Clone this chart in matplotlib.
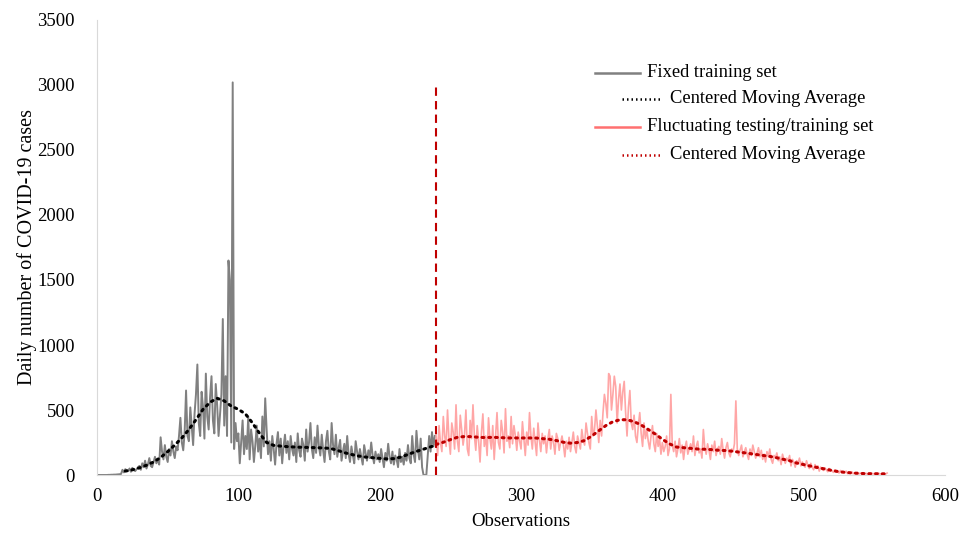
import matplotlib.pyplot as plt
import numpy as np

plt.rcParams['font.family'] = ['Liberation Serif', 'DejaVu Serif']

# daily cases, fixed training set (observations 0..239)
fixed_cases = [
    0, 0, 0, 0, 0, 0, 0, 0, 1, 1, 2, 2, 3, 3, 4, 5, 6, 8,
    40, 20, 45, 35, 30, 50, 25, 55, 40, 30, 45, 60,
    70, 40, 90, 60, 110, 50, 80, 130, 70, 60, 100, 140, 90, 120, 80,
    290, 180, 120, 230, 140, 100, 200, 150, 260, 180,
    130, 220, 190, 300, 440, 250, 190, 330, 650, 300, 260, 520, 380, 230, 470,
    620, 850, 400, 300, 640, 520, 280, 780, 450, 350, 600, 760, 420, 320, 700,
    540, 300, 460, 620, 1200, 380, 760, 300, 1650, 1500, 250, 3020, 200, 400, 260,
    320, 90, 250, 420, 160, 300, 200, 450, 120, 350, 260, 100, 230, 380, 180, 280, 130, 450, 220, 590,
    350, 160, 260, 110, 300, 200, 80, 240, 330, 150, 280, 90, 220, 310, 170, 260, 120, 300, 200, 150,
    250, 100, 320, 190, 140, 280, 230, 110, 350, 180, 250, 400, 200, 130, 290, 170, 380, 220, 150, 310,
    190, 100, 260, 340, 180, 120, 400, 230, 160, 310, 140, 210, 270, 110, 180, 240, 130, 300, 160, 100,
    220, 150, 90, 260, 180, 120, 200, 140, 80, 230, 170, 110, 190, 130, 250, 150, 90, 180, 120, 160,
    100, 200, 130, 60, 170, 110, 240, 140, 90, 180, 80, 150, 120, 60, 200, 100, 140, 80, 170, 110,
    230, 130, 90, 300, 160, 100, 340, 200, 120, 280, 60, 0, 0, 0, 150, 300, 180, 330, 220, 300,
]

# daily cases, fluctuating testing/training set (observations 240..559)
fluct_cases = [
    300, 150, 380, 250, 180, 450, 300, 220, 500, 280, 160, 400, 330, 200, 540, 260, 180, 460, 350, 230,
    310, 500, 200, 150, 420, 280, 540, 300, 190, 380, 260, 100, 330, 470, 220, 300, 150, 440, 280, 200,
    380, 120, 300, 480, 250, 200, 420, 330, 170, 510, 260, 300, 210, 450, 240, 380, 300, 190, 330, 260,
    200, 410, 280, 150, 330, 230, 480, 300, 200, 360, 250, 150, 400, 270, 180, 320, 240, 300, 170, 280,
    350, 200, 300, 250, 160, 320, 280, 190, 250, 300, 230, 140, 260, 200, 290, 180, 250, 330, 220, 170,
    300, 250, 200, 350, 270, 230, 400, 320, 250, 200, 450, 300, 350, 500, 380, 250, 420, 300, 480, 620,
    550, 440, 780, 760, 500, 620, 760, 680, 400, 580, 700, 500, 640, 720, 480, 300, 520, 650, 400, 350,
    460, 300, 250, 380, 480, 320, 220, 400, 280, 350, 260, 200, 300, 380, 240, 180, 320, 220, 280, 160,
    250, 180, 220, 300, 150, 200, 620, 230, 180, 260, 140, 200, 280, 170, 230, 120, 210, 260, 160, 200,
    240, 180, 300, 150, 220, 260, 170, 200, 130, 350, 210, 160, 240, 190, 120, 230, 180, 260, 150, 200,
    220, 160, 280, 190, 130, 210, 250, 170, 140, 200, 180, 240, 570, 200, 150, 190, 230, 140, 180, 210,
    160, 120, 200, 150, 230, 180, 130, 170, 210, 140, 190, 120, 160, 100, 180, 140, 200, 120, 90, 150,
    130, 170, 110, 140, 80, 160, 120, 90, 130, 110, 150, 70, 120, 100, 60, 110, 90, 130, 70, 100,
    80, 60, 110, 70, 50, 90, 60, 40, 80, 50, 70, 30, 60, 45, 35, 55, 40, 25, 50, 30,
    35, 20, 40, 25, 30, 15, 35, 20, 25, 15, 30, 10, 20, 15, 25, 10, 18, 12, 20, 8,
    15, 10, 18, 8, 14, 6, 12, 10, 16, 8, 12, 6, 10, 14, 8, 10, 6, 12, 8, 15,
]

# centered moving averages, read every 5 observations
ma_fixed_x = list(range(20, 245, 5))
ma_fixed = [30, 40, 55, 75, 100, 135, 180, 230, 285, 350, 425, 505, 560, 590, 570,
            530, 505, 470, 400, 320, 250, 228, 222, 218, 215, 213, 212, 210, 208, 205,
            190, 172, 158, 146, 138, 133, 128, 124, 126, 138, 158, 178, 195, 213, 230]
ma_fluct_x = list(range(240, 565, 5))
ma_fluct = [235, 252, 272, 290, 296, 295, 290, 288, 290, 288, 285, 285, 285, 285, 285,
            280, 275, 265, 252, 245, 250, 265, 300, 340, 380, 410, 425, 425, 410, 385,
            350, 315, 275, 240, 215, 210, 205, 200, 198, 195, 190, 188, 182, 175, 168,
            160, 152, 145, 135, 122, 110, 92, 80, 68, 57, 46, 35, 25, 20, 15,
            12, 10, 10, 9, 9]

split_at = 240


def main():
    fig = plt.figure(figsize=(9.78, 5.36), dpi=100)
    ax = fig.add_axes([0.0992, 0.1138, 0.8671, 0.8489])

    x_fixed = np.arange(len(fixed_cases))
    x_fluct = np.arange(split_at, split_at + len(fluct_cases))

    ax.plot(x_fixed, fixed_cases, color='#808080', lw=1.4, zorder=2)
    ax.plot(x_fluct, fluct_cases, color='#ffa6a6', lw=1.2, zorder=2)
    ax.plot(ma_fixed_x, ma_fixed, color='black', lw=2.2,
            ls=(0, (0.6, 1.6)), dash_capstyle='round', zorder=3)
    ax.plot(ma_fluct_x, ma_fluct, color='#c00000', lw=2.2,
            ls=(0, (0.6, 1.6)), dash_capstyle='round', zorder=3)
    ax.plot([split_at, split_at], [0, 3000], color='#c00000', lw=1.5,
            ls=(0, (4, 2.5)), zorder=4)

    ax.set_xlim(0, 600)
    ax.set_ylim(0, 3500)
    ax.set_xticks(range(0, 700, 100))
    ax.set_yticks(range(0, 4000, 500))
    ax.tick_params(axis='y', length=0, labelsize=13.5, pad=16)
    ax.tick_params(axis='x', length=0, labelsize=13.5, pad=9)
    for s in ['top', 'right']:
        ax.spines[s].set_visible(False)
    for s in ['left', 'bottom']:
        ax.spines[s].set_color('#d9d9d9')
    ax.set_xlabel('Observations', fontsize=13.5, labelpad=6)
    ax.set_ylabel('Daily number of COVID-19 cases', fontsize=14.5, labelpad=0)

    # legend drawn by hand to keep the indented rows
    t = ax.transAxes
    def ax_x(px):
        return (px - 97) / 848.0
    def ax_y(py):
        return (475 - py) / 455.0
    rows = [
        (73, 595, 640, 647, '#808080', '-', 'Fixed training set'),
        (99, 622, 662, 670, 'black', ':', 'Centered Moving Average'),
        (127, 595, 640, 647, '#ff7070', '-', 'Fluctuating testing/training set'),
        (155, 622, 662, 670, '#c00000', ':', 'Centered Moving Average'),
    ]
    for py, x0, x1, xt, col, style, label in rows:
        if style == '-':
            ax.plot([ax_x(x0), ax_x(x1)], [ax_y(py), ax_y(py)], color=col,
                    lw=1.8, transform=t, clip_on=False)
        else:
            ax.plot([ax_x(x0), ax_x(x1)], [ax_y(py), ax_y(py)], color=col,
                    lw=1.8, ls=(0, (0.6, 1.2)), transform=t, clip_on=False)
        ax.text(ax_x(xt), ax_y(py), label, transform=t, fontsize=13.3,
                va='center', ha='left')

    fig.savefig('out.png', dpi=100)


if __name__ == '__main__':
    main()
